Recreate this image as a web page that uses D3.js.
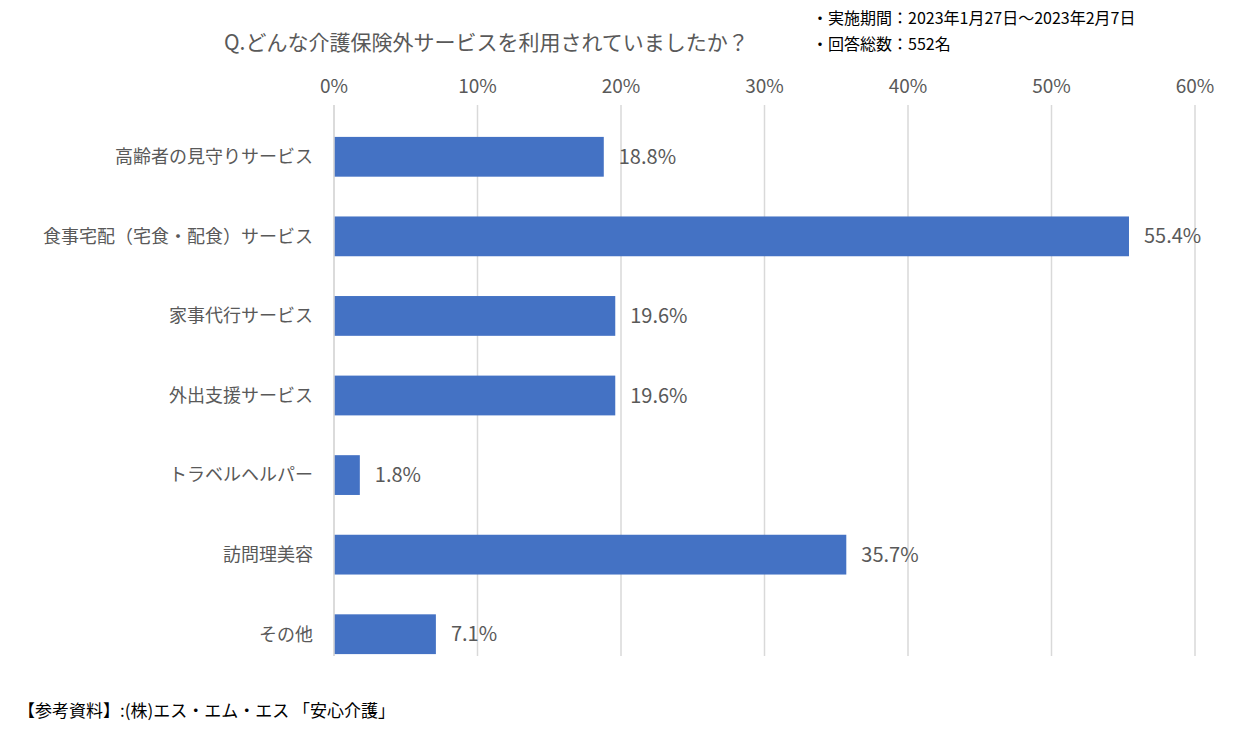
<!DOCTYPE html>
<html><head><meta charset="utf-8">
<script src="https://cdn.jsdelivr.net/npm/d3@7.9.0/dist/d3.min.js"></script>
<style>body{margin:0;background:#fff}svg{font-family:"Noto Sans CJK JP","Noto Sans",sans-serif}</style>
</head><body><svg id="c" width="1240" height="736"></svg>
<script>
// values
const categories = ['高齢者の見守りサービス','食事宅配（宅食・配食）サービス','家事代行サービス','外出支援サービス','トラベルヘルパー','訪問理美容','その他'];
const values = [18.8, 55.4, 19.6, 19.6, 1.8, 35.7, 7.1];
const ticks = [0, 10, 20, 30, 40, 50, 60];

const svg = d3.select('#c');
const x = d3.scaleLinear().domain([0, 60]).range([334, 1195]);
const y = d3.scaleBand().domain(categories).range([117, 674]).paddingInner(0.5).paddingOuter(0.25);

// gridlines
svg.selectAll('line.grid').data(ticks).join('line')
  .attr('x1', d => x(d)).attr('x2', d => x(d))
  .attr('y1', 105).attr('y2', 656)
  .attr('stroke', '#d9d9d9').attr('stroke-width', 1.5);

// tick labels on top
svg.selectAll('text.tick').data(ticks).join('text')
  .attr('x', d => x(d)).attr('y', 93)
  .attr('text-anchor', 'middle').attr('font-size', 19).attr('fill', '#595959')
  .text(d => d + '%');

// bars
svg.selectAll('rect.bar').data(values).join('rect')
  .attr('x', x(0)).attr('y', (d, i) => y(categories[i]))
  .attr('width', d => x(d) - x(0)).attr('height', y.bandwidth())
  .attr('fill', '#4472C4');

// value labels
svg.selectAll('text.val').data(values).join('text')
  .attr('x', d => x(d) + 15).attr('y', (d, i) => y(categories[i]) + y.bandwidth() / 2)
  .attr('dy', '0.35em').attr('font-size', 20).attr('fill', '#595959')
  .text(d => d.toFixed(1) + '%');

// category labels
svg.selectAll('text.cat').data(categories).join('text')
  .attr('x', 313).attr('y', d => y(d) + y.bandwidth() / 2)
  .attr('dy', '0.35em').attr('text-anchor', 'end').attr('font-size', 18).attr('fill', '#595959')
  .text(d => d);

// baseline
svg.append('line').attr('x1', x(0)).attr('x2', x(0)).attr('y1', 105).attr('y2', 656)
  .attr('stroke', '#d9d9d9').attr('stroke-width', 1.5);

svg.append('text').attr('x', 224).attr('y', 50).attr('font-size', 21).attr('fill', '#595959')
  .text('Q.どんな介護保険外サービスを利用されていましたか？');
svg.append('text').attr('x', 812).attr('y', 24).attr('font-size', 16).attr('fill', '#000')
  .text('・実施期間：2023年1月27日～2023年2月7日');
svg.append('text').attr('x', 812).attr('y', 50).attr('font-size', 16).attr('fill', '#000')
  .text('・回答総数：552名');
svg.append('text').attr('x', 18).attr('y', 717).attr('font-size', 17).attr('fill', '#000')
  .text('【参考資料】:(株)エス・エム・エス 「安心介護」');
</script></body></html>
